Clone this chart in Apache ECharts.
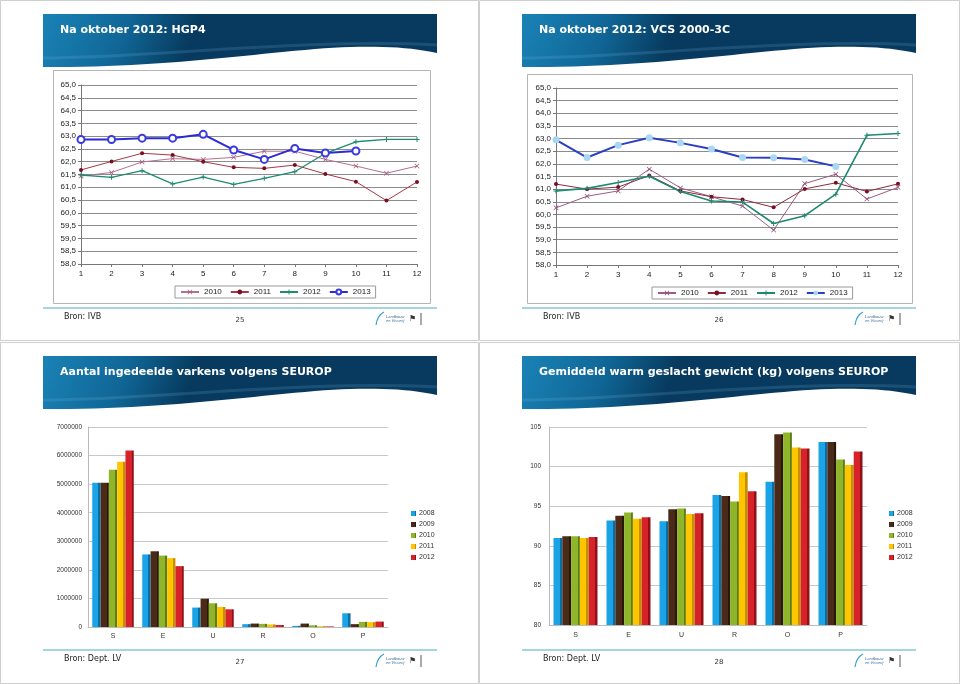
<!DOCTYPE html>
<html><head><meta charset="utf-8">
<script src="https://cdn.jsdelivr.net/npm/echarts@6/dist/echarts.min.js"></script>
<style>html,body{margin:0;padding:0;background:#fff}#c{width:960px;height:684px}</style>
</head><body><div id="c"></div>
<script>
// ---- data ----
const months = ['1','2','3','4','5','6','7','8','9','10','11','12'];
const hgp4_2010 = [61.44,61.58,61.99,62.12,62.09,62.17,62.41,62.41,62.09,61.83,61.55,61.83];
const hgp4_2011 = [61.68,62.01,62.33,62.26,62.0,61.78,61.74,61.87,61.52,61.22,60.48,61.21];
const hgp4_2012 = [61.48,61.39,61.65,61.13,61.4,61.11,61.35,61.61,62.33,62.78,62.87,62.87];
const hgp4_2013 = [62.87,62.87,62.92,62.92,63.07,62.46,62.09,62.52,62.34,62.42];
const vcs_2010 = [60.26,60.72,60.93,61.79,61.05,60.7,60.33,59.38,61.22,61.59,60.61,61.07];
const vcs_2011 = [61.2,61.0,61.08,61.54,60.93,60.7,60.59,60.28,61.01,61.25,60.91,61.21];
const vcs_2012 = [60.93,61.03,61.26,61.51,60.91,60.53,60.49,59.64,59.95,60.8,63.13,63.2];
const vcs_2013 = [62.95,62.25,62.74,63.03,62.83,62.59,62.25,62.24,62.17,61.9];
const lineYears = ['2010','2011','2012','2013'];
const classes = ['S','E','U','R','O','P'];
const barYears = ['2008','2009','2010','2011','2012'];
const count2008 = [5050000,2540000,680000,100000,40000,480000];
const count2009 = [5050000,2650000,990000,120000,120000,100000];
const count2010 = [5500000,2500000,830000,110000,60000,180000];
const count2011 = [5780000,2410000,700000,90000,30000,170000];
const count2012 = [6180000,2130000,620000,70000,20000,190000];
const weight2008 = [91.0,93.2,93.1,96.4,98.1,103.1];
const weight2009 = [91.2,93.8,94.6,96.3,104.1,103.1];
const weight2010 = [91.2,94.2,94.7,95.6,104.3,100.9];
const weight2011 = [91.0,93.4,94.0,99.3,102.4,100.2];
const weight2012 = [91.1,93.6,94.1,96.9,102.3,101.9];

// ---- build ----
const chart = echarts.init(document.getElementById('c'), null, {renderer:'canvas'});
const FONT = 'Liberation Sans, Arial, sans-serif';
const TFONT = 'DejaVu Sans, Verdana, sans-serif';

function cubic(p0,p1,p2,p3,n){
  const pts=[];
  for(let i=0;i<=n;i++){const t=i/n,u=1-t;
    pts.push([u*u*u*p0[0]+3*u*u*t*p1[0]+3*u*t*t*p2[0]+t*t*t*p3[0],
              u*u*u*p0[1]+3*u*u*t*p1[1]+3*u*t*t*p2[1]+t*t*t*p3[1]]);}
  return pts;
}
function header(ox, oy, title){
  const pts=[[43+ox,14+oy],[437+ox,14+oy],[437+ox,53+oy]];
  pts.push(...cubic([437+ox,53+oy],[405+ox,46+oy],[365+ox,45+oy],[315+ox,49+oy],16).slice(1));
  pts.push(...cubic([315+ox,49+oy],[235+ox,56+oy],[150+ox,68+oy],[43+ox,67+oy],24).slice(1));
  return [{
    type:'polygon', silent:true, shape:{points:pts},
    style:{fill:new echarts.graphic.LinearGradient(0,0,0.35,1,[{offset:0,color:'#1a82b6'},{offset:0.55,color:'#106797'},{offset:1,color:'#073a5e'}])}
  },{
    type:'bezierCurve', silent:true,
    shape:{x1:43+ox,y1:58+oy,cpx1:150+ox,cpy1:58+oy,cpx2:300+ox,cpy2:38+oy,x2:437+ox,y2:45+oy},
    style:{fill:null, stroke:'rgba(120,190,230,0.18)', lineWidth:3}
  },{
    type:'text', silent:true, x:60+ox, y:30+oy,
    style:{text:title, fill:'#fff', font:`bold 11px ${TFONT}`, textVerticalAlign:'middle'}
  }];
}
function footer(ox, oy, src, page){
  return [{
    type:'line', silent:true, shape:{x1:43+ox,y1:308+oy,x2:437+ox,y2:308+oy},
    style:{stroke:'#86c8d2', lineWidth:1.5}
  },{
    type:'text', silent:true, x:64+ox, y:317+oy,
    style:{text:src, fill:'#222', font:`8px ${TFONT}`, textVerticalAlign:'middle'}
  },{
    type:'text', silent:true, x:240+ox, y:320+oy,
    style:{text:page, fill:'#333', font:`7px ${TFONT}`, textAlign:'center', textVerticalAlign:'middle'}
  },{
    type:'bezierCurve', silent:true,
    shape:{x1:376+ox,y1:325+oy,cpx1:377+ox,cpy1:318+oy,cpx2:380+ox,cpy2:314+oy,x2:384+ox,y2:312+oy},
    style:{fill:null, stroke:'#3a9fd0', lineWidth:1.2}
  },{
    type:'text', silent:true, x:386+ox, y:319+oy,
    style:{text:'Landbouw\nen Visserij', fill:'#3c6f9a', font:`italic 4px ${FONT}`, textVerticalAlign:'middle', lineHeight:4}
  },{
    type:'text', silent:true, x:409+ox, y:319+oy,
    style:{text:'\u2691', fill:'#333', font:`8px ${TFONT}`, textVerticalAlign:'middle'}
  },{
    type:'rect', silent:true, shape:{x:420+ox,y:313+oy,width:2,height:12},
    style:{fill:'#aaa'}
  }];
}

const graphics = [
  {type:'rect', silent:true, z:-10, shape:{x:0.5,y:0.5,width:478,height:340}, style:{fill:'#fff', stroke:'#cfcfcf', lineWidth:1}},
  {type:'rect', silent:true, z:-10, shape:{x:479.5,y:0.5,width:480,height:340}, style:{fill:'#fff', stroke:'#cfcfcf', lineWidth:1}},
  {type:'rect', silent:true, z:-10, shape:{x:0.5,y:342.5,width:478,height:341}, style:{fill:'#fff', stroke:'#cfcfcf', lineWidth:1}},
  {type:'rect', silent:true, z:-10, shape:{x:479.5,y:342.5,width:480,height:341}, style:{fill:'#fff', stroke:'#cfcfcf', lineWidth:1}},
  {type:'rect', silent:true, z:-9, shape:{x:53.5,y:70.5,width:377,height:233}, style:{fill:'#fff', stroke:'#b5b5b5', lineWidth:1}},
  {type:'rect', silent:true, z:-9, shape:{x:527.5,y:74.5,width:385,height:229}, style:{fill:'#fff', stroke:'#b5b5b5', lineWidth:1}},
  ...header(0,0,'Na oktober 2012: HGP4'),
  ...header(479,0,'Na oktober 2012: VCS 2000-3C'),
  ...header(0,342,'Aantal ingedeelde varkens volgens SEUROP'),
  ...header(479,342,'Gemiddeld warm geslacht gewicht (kg) volgens SEUROP'),
  ...footer(0,0,'Bron: IVB','25'),
  ...footer(479,0,'Bron: IVB','26'),
  ...footer(0,342,'Bron: Dept. LV','27'),
  ...footer(479,342,'Bron: Dept. LV','28')
];

const xMark = 'path://M0,1L1,0L5,4L9,0L10,1L6,5L10,9L9,10L5,6L1,10L0,9L4,5Z';
const plusMark = 'path://M4,0L6,0L6,4L10,4L10,6L6,6L6,10L4,10L4,6L0,6L0,4L4,4Z';

const commaFmt = v => v.toFixed(1).replace('.', ',');
function lineY(idx){
  return {type:'value', gridIndex:idx, min:58, max:65, interval:0.5,
    axisLine:{show:true, lineStyle:{color:'#777'}}, axisTick:{show:true, length:3, lineStyle:{color:'#777'}},
    axisLabel:{formatter:commaFmt, fontSize:8, color:'#222', fontFamily:FONT, margin:5},
    splitLine:{lineStyle:{color:'#8c8c8c', width:1}}};
}
function lineX(idx){
  return {type:'category', gridIndex:idx, data:months, boundaryGap:false,
    axisLine:{lineStyle:{color:'#777'}}, axisTick:{show:true, length:3, lineStyle:{color:'#777'}},
    axisLabel:{fontSize:8, color:'#222', fontFamily:FONT, margin:6}};
}
function lineSeries(tag, idx, data, color, symbol, size, width, symColor){
  return {name:tag, type:'line', xAxisIndex:idx, yAxisIndex:idx, data:data,
    symbol:symbol, symbolSize:size, showSymbol:true,
    lineStyle:{color:color, width:width},
    itemStyle:{color:symColor||color, borderColor:symColor||color, borderWidth:symbol==='emptyCircle'?1:0},
    z:3};
}
const dark = {'#1aa3e6':'#0c6e9e','#4b2a17':'#2a160b','#8fb62a':'#5f7c15','#ffc600':'#c48f00','#d8222a':'#8e1118'};
function bar3d(c){
  return new echarts.graphic.LinearGradient(0,0,1,0,[{offset:0,color:c},{offset:0.74,color:c},{offset:0.75,color:dark[c]},{offset:1,color:dark[c]}]);
}
const barColors = ['#1aa3e6','#4b2a17','#8fb62a','#ffc600','#d8222a'];
function barSeries(tag, idx, data, ci){
  return {name:tag, type:'bar', xAxisIndex:idx, yAxisIndex:idx, data:data,
    barGap:'0%', barCategoryGap:'17%', itemStyle:{color:bar3d(barColors[ci])}};
}

const option = {
  animation:false,
  backgroundColor:'#fff',
  graphic:graphics,
  grid:[
    {left:81, right:543, top:85, bottom:420},
    {left:556, right:62, top:88, bottom:419},
    {left:88, right:572, top:427, bottom:57},
    {left:549, right:93, top:427, bottom:59}
  ],
  xAxis:[lineX(0), lineX(1),
    {type:'category', gridIndex:2, data:classes, axisLine:{lineStyle:{color:'#bbb'}}, axisTick:{show:false},
     axisLabel:{fontSize:7, color:'#333', fontFamily:FONT, margin:6}},
    {type:'category', gridIndex:3, data:classes, axisLine:{lineStyle:{color:'#bbb'}}, axisTick:{show:false},
     axisLabel:{fontSize:7, color:'#333', fontFamily:FONT, margin:7}}
  ],
  yAxis:[lineY(0), lineY(1),
    {type:'value', gridIndex:2, min:0, max:7000000, interval:1000000,
     axisLine:{show:true, lineStyle:{color:'#bbb'}}, axisTick:{show:false},
     axisLabel:{formatter:v=>String(v), fontSize:6.5, color:'#333', fontFamily:FONT, margin:6},
     splitLine:{lineStyle:{color:'#c8c8c8'}}},
    {type:'value', gridIndex:3, min:80, max:105, interval:5,
     axisLine:{show:true, lineStyle:{color:'#bbb'}}, axisTick:{show:false},
     axisLabel:{formatter:v=>String(v), fontSize:6.5, color:'#333', fontFamily:FONT, margin:8},
     splitLine:{lineStyle:{color:'#c8c8c8'}}}
  ],
  legend:[
    {left:175, top:286, orient:'horizontal', padding:[2,5], itemGap:8, itemWidth:18, itemHeight:6,
     borderColor:'#999', borderWidth:1, backgroundColor:'#fff',
     data:lineYears.map(y=>'a|'+y), formatter:n=>n.split('|')[1],
     textStyle:{fontSize:8, color:'#222', fontFamily:FONT}},
    {left:652, top:287, orient:'horizontal', padding:[2,5], itemGap:8, itemWidth:18, itemHeight:6,
     borderColor:'#999', borderWidth:1, backgroundColor:'#fff',
     data:lineYears.map(y=>'b|'+y), formatter:n=>n.split('|')[1],
     textStyle:{fontSize:8, color:'#222', fontFamily:FONT}},
    {left:406, top:505, orient:'vertical', itemGap:4, itemWidth:5, itemHeight:5, icon:'rect',
     data:barYears.map(y=>'c|'+y), formatter:n=>n.split('|')[1],
     textStyle:{fontSize:7, color:'#333', fontFamily:FONT, padding:[0,0,0,-2]}},
    {left:884, top:505, orient:'vertical', itemGap:4, itemWidth:5, itemHeight:5, icon:'rect',
     data:barYears.map(y=>'d|'+y), formatter:n=>n.split('|')[1],
     textStyle:{fontSize:7, color:'#333', fontFamily:FONT, padding:[0,0,0,-2]}}
  ],
  series:[
    lineSeries('a|2010',0,hgp4_2010,'#b5708f',xMark,5,1,'#a05a7c'),
    lineSeries('a|2011',0,hgp4_2011,'#a33a48','circle',4,1,'#7a0e20'),
    lineSeries('a|2012',0,hgp4_2012,'#1f8c70',plusMark,5,1.3),
    lineSeries('a|2013',0,hgp4_2013,'#2b2bd6','emptyCircle',7,2,'#3a3ae0'),
    lineSeries('b|2010',1,vcs_2010,'#9c5c86',xMark,5,1,'#8a4a75'),
    lineSeries('b|2011',1,vcs_2011,'#8e2a3c','circle',4,1,'#7a0e20'),
    lineSeries('b|2012',1,vcs_2012,'#1b8a6e',plusMark,5,1.6),
    lineSeries('b|2013',1,vcs_2013,'#2a3fc4','circle',7,2,'#a9d6f2'),
    barSeries('c|2008',2,count2008,0),
    barSeries('c|2009',2,count2009,1),
    barSeries('c|2010',2,count2010,2),
    barSeries('c|2011',2,count2011,3),
    barSeries('c|2012',2,count2012,4),
    barSeries('d|2008',3,weight2008,0),
    barSeries('d|2009',3,weight2009,1),
    barSeries('d|2010',3,weight2010,2),
    barSeries('d|2011',3,weight2011,3),
    barSeries('d|2012',3,weight2012,4)
  ]
};
chart.setOption(option);
</script></body></html>
